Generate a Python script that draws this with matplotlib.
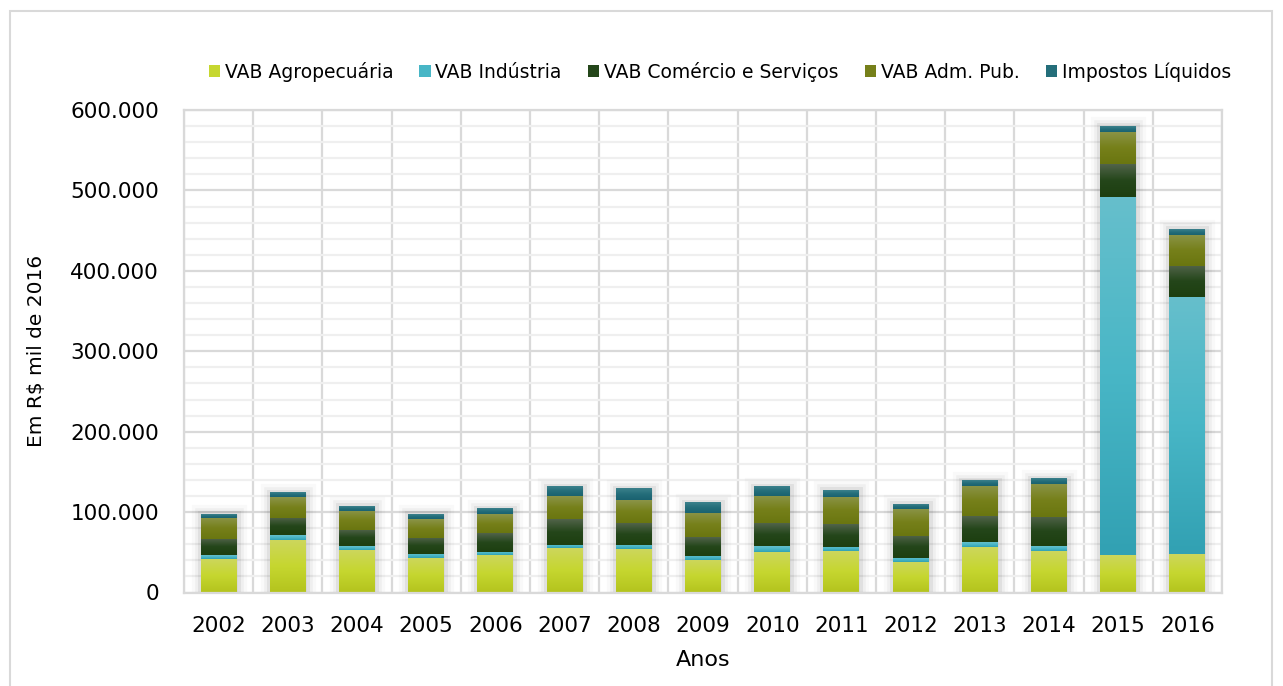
import matplotlib
matplotlib.use("Agg")
import matplotlib.pyplot as plt
import matplotlib.ticker as ticker
import matplotlib.patheffects as pe
from matplotlib.patches import Rectangle, Patch
from matplotlib.colors import to_rgb
import numpy as np

# valores em R$ mil de 2016
anos = ['2002', '2003', '2004', '2005', '2006', '2007', '2008', '2009',
        '2010', '2011', '2012', '2013', '2014', '2015', '2016']
agro = [41700, 65300, 52900, 42900, 46600, 55300, 54100, 40400,
        50400, 51600, 37900, 56600, 51600, 46600, 47900]
industria = [4900, 6200, 4900, 5000, 3800, 3800, 5000, 5000,
             7400, 5000, 5000, 6200, 6200, 445400, 319600]
comercio = [19900, 21200, 19900, 19900, 23600, 32300, 27300, 23600,
            28600, 28600, 27400, 32300, 36100, 41000, 38600]
adm_pub = [26200, 26100, 23700, 23600, 23600, 28600, 28600, 29900,
           33600, 33600, 33600, 37400, 41100, 39800, 38600]
impostos = [4900, 5000, 6200, 6200, 6300, 11300, 13800, 12500,
            11300, 8700, 6200, 6300, 6300, 7400, 7400]

series = [
    ('VAB Agropecuária', agro, ['#cdd65e', '#c6d730', '#b4c41e']),
    ('VAB Indústria', industria, ['#66bfcc', '#48b6c6', '#32a1b3']),
    ('VAB Comércio e Serviços', comercio, ['#516349', '#24461a', '#1d3f10']),
    ('VAB Adm. Pub.', adm_pub, ['#8b9448', '#76801a', '#6a7610']),
    ('Impostos Líquidos', impostos, ['#3c818c', '#246e7a', '#1a6270']),
]


def gradiente(cores, n=64):
    c = np.array([to_rgb(x) for x in cores])
    t = np.linspace(0, 1, n)
    pos = np.linspace(0, 1, len(c))
    g = np.stack([np.interp(t, pos, c[:, k]) for k in range(3)], axis=1)
    return g[:, None, :]


fig = plt.figure(figsize=(12.83, 6.86), dpi=100)
ax = fig.add_axes([184 / 1283, 1 - 592.5 / 686, (1222 - 184) / 1283, (592.5 - 110) / 686])

x = np.arange(len(anos))
largura = 0.52
totais = np.sum([s[1] for s in series], axis=0)

# sombra suave atras das barras
for i in x:
    r = Rectangle((i - largura / 2, 0), largura, totais[i], fc='#888888', ec='none', zorder=1.5)
    r.set_path_effects([
        pe.Stroke(linewidth=14, foreground='#000000', alpha=0.025),
        pe.Stroke(linewidth=9, foreground='#000000', alpha=0.04),
        pe.Stroke(linewidth=5, foreground='#000000', alpha=0.06),
        pe.Normal()])
    ax.add_patch(r)

base = np.zeros(len(anos))
for nome, vals, cores in series:
    img = gradiente(cores)
    for i in x:
        ax.imshow(img, extent=(i - largura / 2, i + largura / 2, base[i], base[i] + vals[i]),
                  aspect='auto', interpolation='bilinear', zorder=2)
    base = base + np.array(vals)

ax.set_xlim(-0.5, len(anos) - 0.5)
ax.set_ylim(0, 600000)

ax.set_xticks(x)
ax.set_xticklabels(anos)
ax.yaxis.set_major_locator(ticker.MultipleLocator(100000))
ax.yaxis.set_minor_locator(ticker.MultipleLocator(20000))
ax.yaxis.set_major_formatter(ticker.FuncFormatter(lambda v, p: f"{v:,.0f}".replace(",", ".")))
ax.xaxis.set_minor_locator(ticker.FixedLocator(np.arange(-0.5, len(anos), 1)))

ax.set_axisbelow(True)
ax.grid(axis='y', which='major', color='#d9d9d9', lw=1.6)
ax.grid(axis='y', which='minor', color='#efefef', lw=1.6)
ax.grid(axis='x', which='minor', color='#d9d9d9', lw=1.6)
ax.tick_params(axis='both', which='both', length=0, labelsize=15.5)
ax.tick_params(axis='x', pad=17)
ax.tick_params(axis='y', pad=18)
for s in ax.spines.values():
    s.set_color('#d9d9d9')
    s.set_linewidth(1.6)

ax.set_xlabel('Anos', fontsize=16, labelpad=10)
ax.set_ylabel('Em R$ mil de 2016', fontsize=14.5)
ax.yaxis.set_label_coords(-0.133, 0.5)

handles = [Patch(fc=c[1], ec='none') for _, _, c in series]
fig.legend(handles, [s[0] for s in series], loc='center', bbox_to_anchor=(0.561, 1 - 72 / 686),
           ncol=5, frameon=False, fontsize=13.5, handlelength=0.6, handleheight=0.6,
           handletextpad=0.25, columnspacing=1.4)

fig.patches.append(Rectangle((10 / 1283, -0.02), (1272 - 10) / 1283, 1 - 11 / 686 + 0.02,
                             transform=fig.transFigure, fill=False, ec='#d9d9d9', lw=1.5))

plt.savefig('out.png', dpi=100)
